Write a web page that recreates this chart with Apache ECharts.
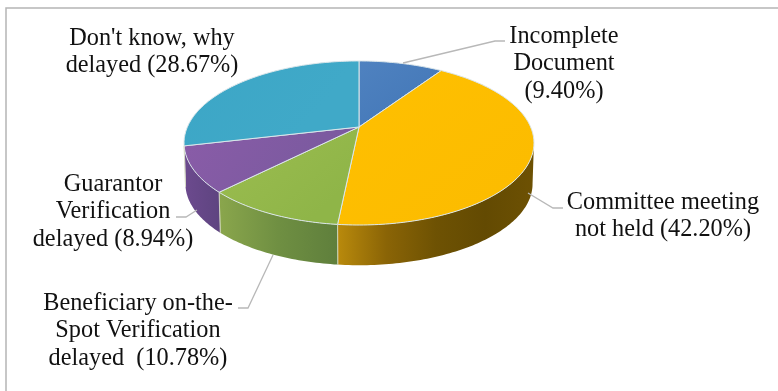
<!DOCTYPE html>
<html>
<head>
<meta charset="utf-8">
<style>html,body{margin:0;padding:0;background:#fff}#c{width:778px;height:391px}</style>
<script src="https://cdn.jsdelivr.net/npm/echarts@6/dist/echarts.min.js"></script>
</head>
<body>
<div id="c"></div>
<script>
// ---- data ----
const categories = [
  'Incomplete\nDocument\n',
  'Committee meeting\nnot held ',
  'Beneficiary on-the-\nSpot Verification\ndelayed  ',
  'Guarantor\nVerification\ndelayed ',
  "Don't know, why\ndelayed "
];
const values = [9.40, 42.20, 10.78, 8.94, 28.67];

// ---- style ----
const topColors = [
  ['#4f82c0', '#4478b8'],
  ['#ffc000', '#fcbc00'],
  ['#9cbd50', '#8fb548'],
  ['#8a5ca8', '#7c5aa0'],
  ['#3ca6c6', '#40a9c8']
];
const wallColors = [
  ['#3f689a', '#3f689a'],
  ['#b98a0c', '#8a6406', '#6e5203', '#634a02', '#6d5103'],
  ['#8aa64c', '#6f8f42', '#5f7f3c'],
  ['#6c4a8e', '#5e4480'],
  ['#6c4a8e', '#6c4a8e']
];
// ---- layout of labels and leader lines, one per category ----
const labelAt = [[564, 64], [663, 216], [138, 331], [113, 212], [152, 52]];
const leaders = [
  [[403, 63], [495, 41], [505, 41]],
  [[528, 193], [553, 208], [563, 208]],
  [[273, 255], [248, 308], [238, 308]],
  [[197, 210], [186, 217], [176, 217]],
  null
];
// ---- perspective disc ----
const cx = 359, apexY = 127, A = 171.6, B = 78.9, k = 0.195, depth = 41, bottomScale = 0.992;
const total = values.reduce((a, b) => a + b, 0);
const starts = [];
values.reduce((acc, v, i) => { starts[i] = acc; return acc + v; }, 0);
const rad = d => d * Math.PI / 180;
function project(deg, bottom) {
  const X = Math.sin(rad(deg)), Y = Math.cos(rad(deg)), d = 1 + k * Y;
  const s = bottom ? bottomScale : 1;
  return [cx + s * A * X / d, apexY + (bottom ? depth : 0) - s * B * Y / d];
}
function arc(a0, a1, bottom) {
  const n = Math.max(2, Math.ceil(Math.abs(a1 - a0))), pts = [];
  for (let i = 0; i <= n; i++) pts.push(project(a0 + (a1 - a0) * i / n, bottom));
  return pts;
}
const wallFrom = 101.2, wallTo = 258.8;
function grad(cols, horizontal) {
  return {
    type: 'linear', x: 0, y: 0, x2: horizontal ? 1 : 0.6, y2: horizontal ? 0 : 1,
    colorStops: cols.map((c, i) => ({ offset: i / (cols.length - 1), color: c }))
  };
}
function renderItem(params, api) {
  const i = params.dataIndex, v = api.value(0);
  const a0 = starts[i] / total * 360, a1 = (starts[i] + v) / total * 360;
  const children = [];
  const lo = Math.max(a0, wallFrom), hi = Math.min(a1, wallTo);
  if (hi > lo) {
    const t = arc(lo, hi, false), b = arc(hi, lo, true);
    children.push({
      type: 'polygon', shape: { points: t.concat(b) },
      style: { fill: grad(wallColors[i], true), stroke: null }
    });
    [lo, hi].forEach(a => {
      if (a === wallFrom || a === wallTo) return;
      const p = project(a, false), q = project(a, true);
      children.push({
        type: 'line', shape: { x1: p[0], y1: p[1], x2: q[0], y2: q[1] },
        style: { stroke: '#d9dfc8', lineWidth: 1, opacity: 0.8 }
      });
    });
  }
  children.push({
    type: 'polygon', shape: { points: [[cx, apexY]].concat(arc(a0, a1, false)) },
    style: { fill: grad(topColors[i], false), stroke: '#dbe6ea', lineWidth: 1 }
  });
  if (leaders[i]) {
    children.push({
      type: 'polyline', shape: { points: leaders[i] },
      style: { fill: null, stroke: '#b8b8b8', lineWidth: 1.3 }
    });
  }
  children.push({
    type: 'text',
    style: {
      text: categories[i] + '(' + v.toFixed(2) + '%)',
      x: labelAt[i][0], y: labelAt[i][1], align: 'center', verticalAlign: 'middle',
      font: '24.3px "Liberation Serif"', lineHeight: 27.5, fill: '#111'
    }
  });
  return { type: 'group', children };
}
const chart = echarts.init(document.getElementById('c'), null, { renderer: 'canvas' });
chart.setOption({
  animation: false,
  backgroundColor: '#fff',
  graphic: [{
    type: 'rect', z: -1, silent: true,
    shape: { x: 6, y: 8, width: 800, height: 420 },
    style: { fill: '#fff', stroke: '#b5b5b5', lineWidth: 1.5 }
  }],
  series: [{
    type: 'custom',
    coordinateSystem: 'none',
    renderItem,
    silent: true,
    data: values.map((v, i) => ({ name: categories[i], value: [v] }))
  }]
});
</script>
</body>
</html>
